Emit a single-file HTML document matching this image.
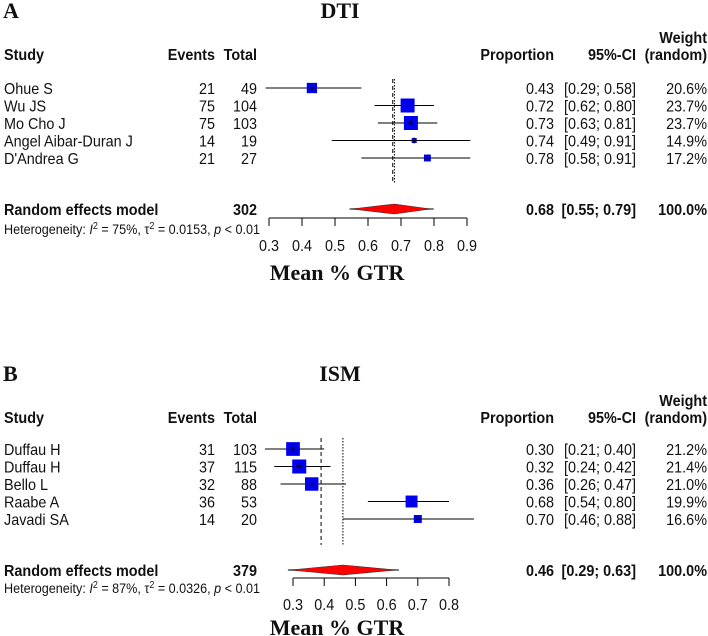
<!DOCTYPE html>
<html><head><meta charset="utf-8"><style>
html,body{margin:0;padding:0;background:#fff;}
svg{display:block;}
text{font-family:"Liberation Sans Narrow","Liberation Sans",sans-serif;font-size:16px;fill:#111;}
.b{font-weight:bold;}
.t{font-family:"Liberation Serif",serif;font-weight:bold;font-size:22px;}
.s{font-size:14px;}
</style></head><body>
<svg id="chart" width="708" height="636" viewBox="0 0 708 636"></svg>
<script>
// Panel A (DTI)
const studiesA = ["Ohue S","Wu JS","Mo Cho J","Angel Aibar-Duran J","D'Andrea G"];
const eventsA = [21,75,75,14,21];
const totalsA = [49,104,103,19,27];
const propA = [0.43,0.72,0.73,0.74,0.78];
const lowA = [0.29,0.62,0.63,0.49,0.58];
const highA = [0.58,0.80,0.81,0.91,0.91];
const weightA = [20.6,23.7,23.7,14.9,17.2];
const pooledA = [0.68,0.55,0.79];
const fixedA = 0.675;
const totalSumA = 302;
const ticksA = [0.3,0.4,0.5,0.6,0.7,0.8,0.9];
const hetA = ["75%","0.0153","< 0.01"];
// Panel B (ISM)
const studiesB = ["Duffau H","Duffau H","Bello L","Raabe A","Javadi SA"];
const eventsB = [31,37,32,36,14];
const totalsB = [103,115,88,53,20];
const propB = [0.30,0.32,0.36,0.68,0.70];
const lowB = [0.21,0.24,0.26,0.54,0.46];
const highB = [0.40,0.42,0.47,0.80,0.88];
const weightB = [21.2,21.4,21.0,19.9,16.6];
const pooledB = [0.46,0.29,0.63];
const fixedB = 0.39;
const totalSumB = 379;
const ticksB = [0.3,0.4,0.5,0.6,0.7,0.8];
const hetB = ["87%","0.0326","< 0.01"];

const NS="http://www.w3.org/2000/svg";
const svg=document.getElementById('chart');
const SX=0.9;
function mk(tag,attrs,parent,txt){const e=document.createElementNS(NS,tag);for(const k in attrs)e.setAttribute(k,attrs[k]);if(txt!==undefined)e.textContent=txt;(parent||svg).appendChild(e);return e;}
function tx(parent,x,y,str,anchor,cls){
  const a={x:0,y:0,transform:`translate(${x},${y}) scale(${SX},1)`};
  if(anchor)a['text-anchor']=anchor;
  if(cls)a['class']=cls;
  return mk('text',a,parent,str);
}

function panel(cfg){
  const g=mk('g',{});
  
  
  const x=v=>cfg.x0+(v-cfg.t0)/(cfg.t1-cfg.t0)*(cfg.x1-cfg.x0);
  let e;
  e=mk('text',{x:3,y:cfg.top+8,class:'t'},g,cfg.letter);
  
  e=mk('text',{x:340,y:cfg.top+8,class:'t','text-anchor':'middle'},g,cfg.title);
  
  const hy=cfg.top+50;
  e=tx(g,707,hy-17,'Weight','end','b');
  
  const hdr=[['Study',4,'start'],['Events',215,'end'],['Total',257,'end'],['Proportion',554,'end'],['95%-CI',636,'end'],['(random)',707,'end']];
  hdr.forEach(h=>{e=tx(g,h[1],hy,h[0],h[2],'b');
    });
  const maxW=Math.max(...cfg.w);
  cfg.st.forEach((s,i)=>{
    const y=cfg.rowY+i*cfg.rowH;
    const row=mk('g',{},g);
    
    tx(row,4,y+6,s);
    tx(row,215,y+6,cfg.ev[i],'end');
    tx(row,257,y+6,cfg.tot[i],'end');
    tx(row,554,y+6,cfg.p[i].toFixed(2),'end');
    tx(row,636,y+6,'['+cfg.lo[i].toFixed(2)+'; '+cfg.hi[i].toFixed(2)+']','end');
    tx(row,707,y+6,cfg.w[i].toFixed(1)+'%','end');
    e=mk('line',{x1:x(cfg.lo[i]),x2:x(cfg.hi[i]),y1:y,y2:y,stroke:'#000','stroke-width':1},row);
    
    const sz=14*Math.pow(cfg.w[i]/maxW,2.2);
    e=mk('rect',{x:x(cfg.p[i])-sz/2,y:y-sz/2,width:sz,height:sz,fill:'#0000ee'},row);
    
    mk('line',{x1:x(cfg.p[i]),x2:x(cfg.p[i]),y1:y-3,y2:y+3,stroke:'#000','stroke-width':0.8},row);
    mk('line',{x1:x(cfg.p[i])-3,x2:x(cfg.p[i])+3,y1:y,y2:y,stroke:'#000','stroke-width':0.8},row);
  });
  e=mk('line',{x1:x(cfg.fixed),x2:x(cfg.fixed),y1:cfg.lineTop,y2:cfg.lineBot,stroke:'#000','stroke-dasharray':'4,3','stroke-width':1},g);
  
  e=mk('line',{x1:x(cfg.pool[0]),x2:x(cfg.pool[0]),y1:cfg.lineTop,y2:cfg.lineBot,stroke:'#000','stroke-dasharray':'1.5,1.5','stroke-width':1},g);
  
  const dy=cfg.diaY;
  e=tx(g,4,dy+6,'Random effects model',null,'b');
  
  e=tx(g,257,dy+6,cfg.sum,'end','b');
  
  e=tx(g,554,dy+6,cfg.pool[0].toFixed(2),'end','b');
  
  e=tx(g,636,dy+6,'['+cfg.pool[1].toFixed(2)+'; '+cfg.pool[2].toFixed(2)+']','end','b');
  
  e=tx(g,707,dy+6,'100.0%','end','b');
  
  mk('line',{x1:x(cfg.pool[1])-2,x2:x(cfg.pool[2])+3,y1:dy,y2:dy,stroke:'#555','stroke-width':1.5},g);
  e=mk('polygon',{points:`${x(cfg.pool[1])},${dy} ${x(cfg.pool[0])},${dy-5} ${x(cfg.pool[2])},${dy} ${x(cfg.pool[0])},${dy+5}`,fill:'#ff0000',stroke:'#333','stroke-width':0.6},g);
  
  const ay=cfg.axisY;
  const ax=mk('g',{},g);
  
  mk('line',{x1:x(cfg.ticks[0]),x2:x(cfg.ticks[cfg.ticks.length-1]),y1:ay,y2:ay,stroke:'#000'},ax);
  cfg.ticks.forEach(t=>{
    mk('line',{x1:x(t),x2:x(t),y1:ay,y2:ay+8,stroke:'#000'},ax);
    e=tx(ax,x(t),cfg.tickLabY,t.toFixed(1),'middle');
    
  });
  const h=mk('text',{x:0,y:0,class:'s',transform:`translate(4,${cfg.hetY}) scale(${SX},1)`},g);
  
  mk('tspan',{},h,'Heterogeneity: ');
  mk('tspan',{'font-style':'italic'},h,'I');
  mk('tspan',{dy:-5,'font-size':'10'},h,'2');
  mk('tspan',{dy:5},h,' = '+cfg.het[0]+', τ');
  mk('tspan',{dy:-5,'font-size':'10'},h,'2');
  mk('tspan',{dy:5},h,' = '+cfg.het[1]+', ');
  mk('tspan',{'font-style':'italic'},h,'p');
  mk('tspan',{},h,' '+cfg.het[2]);
  e=mk('text',{x:337,y:cfg.xtitleY,class:'t','text-anchor':'middle'},g,'Mean % GTR');
  
}
panel({key:'dti',letter:'A',title:'DTI',top:10,st:studiesA,ev:eventsA,tot:totalsA,p:propA,lo:lowA,hi:highA,w:weightA,pool:pooledA,fixed:fixedA,sum:totalSumA,ticks:ticksA,het:hetA,
  x0:269,x1:467,t0:0.3,t1:0.9,rowY:88,rowH:17.5,lineTop:79,lineBot:184,diaY:209,axisY:218,tickLabY:251,hetY:234,xtitleY:280});
panel({key:'ism',letter:'B',title:'ISM',top:373,st:studiesB,ev:eventsB,tot:totalsB,p:propB,lo:lowB,hi:highB,w:weightB,pool:pooledB,fixed:fixedB,sum:totalSumB,ticks:ticksB,het:hetB,
  x0:293,x1:449,t0:0.3,t1:0.8,rowY:449,rowH:17.5,lineTop:438,lineBot:545,diaY:570,axisY:578,tickLabY:610,hetY:593,xtitleY:635});
</script>
</body></html>
